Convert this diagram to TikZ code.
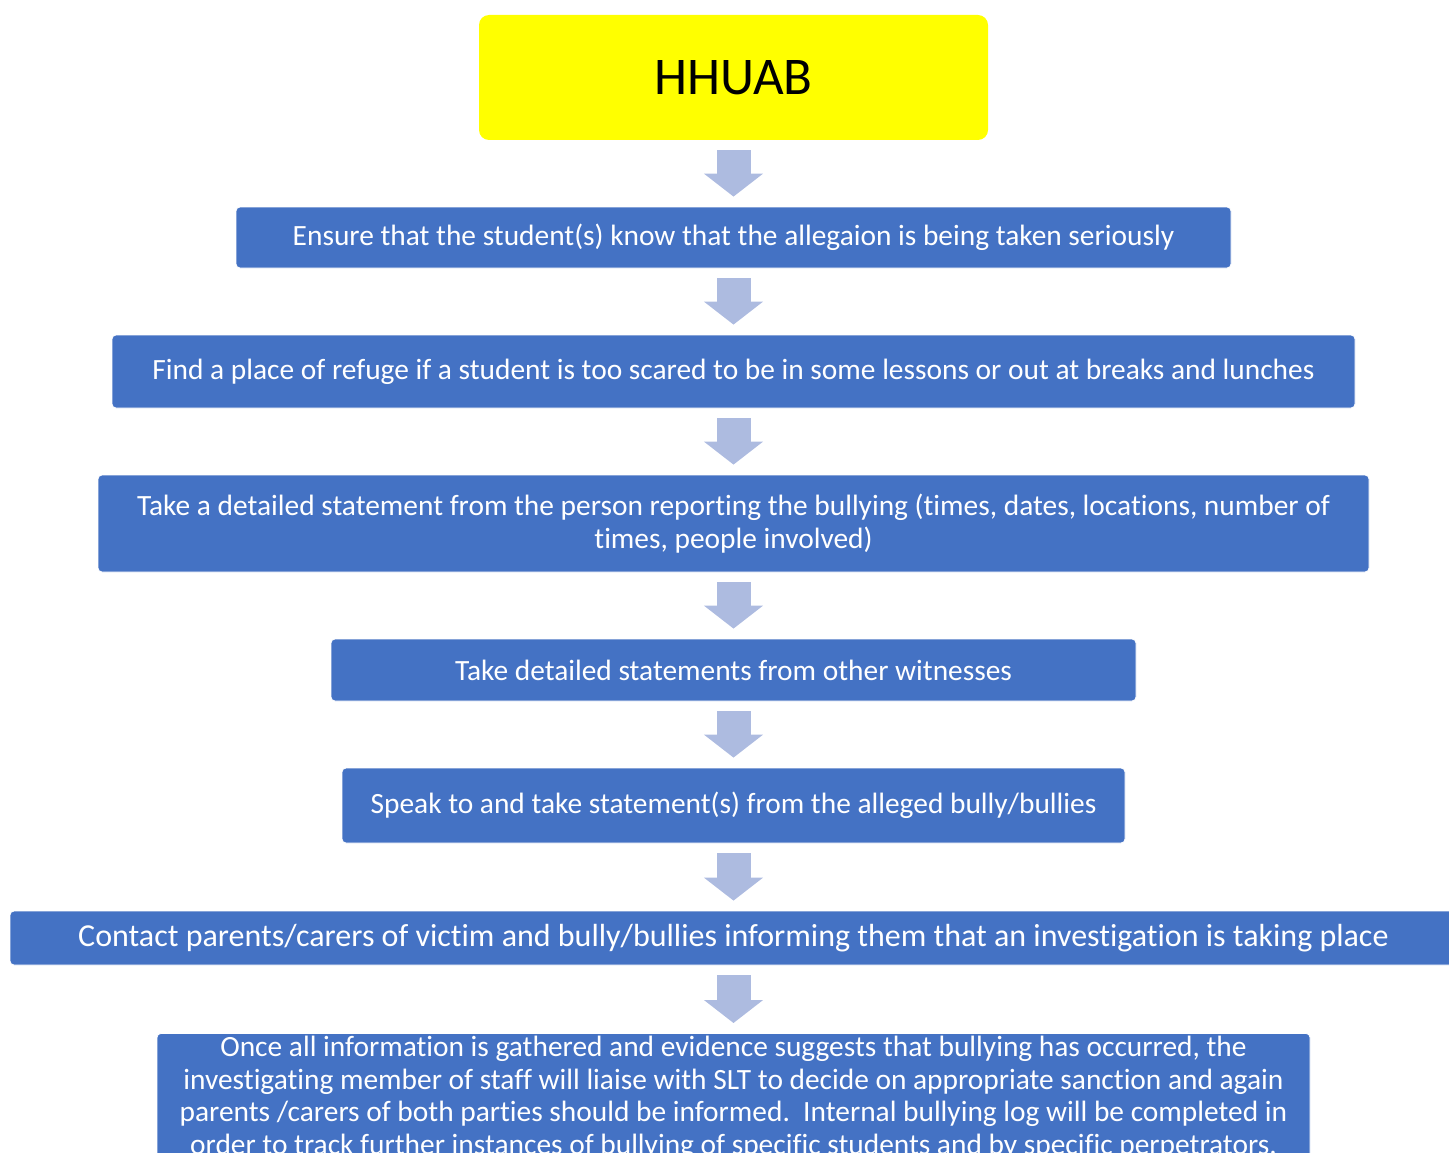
\documentclass[tikz,border=0pt]{standalone}
\usepackage{fontspec}
\setmainfont[RawFeature={-liga;-clig;-dlig}]{Carlito}
\usetikzlibrary{arrows.meta}
\definecolor{boxblue}{HTML}{4472C4}
\definecolor{arrowblue}{HTML}{ADBBE0}
\definecolor{titleyellow}{HTML}{FFFF00}
\tikzstyle{stepbox}=[rectangle,rounded corners=4pt,fill=boxblue,draw=white,line width=0.8pt,text=white,align=center,inner sep=0pt,font=\fontsize{29.4}{32.5}\selectfont]
\tikzstyle{titlebox}=[rectangle,rounded corners=10pt,fill=titleyellow,text=black,inner sep=0pt,font=\fontsize{53}{60}\selectfont]
\tikzstyle{flowarrow}=[arrowblue,line width=34pt,shorten <=10pt,shorten >=10pt,-{Triangle[width=58pt,length=23pt]}]

\begin{document}
\begin{tikzpicture}[x=1pt,y=-1pt]
\useasboundingbox (0,0) rectangle (1449,1153);
\clip (0,0) rectangle (1449,1153);
\node[titlebox,minimum width=509pt,minimum height=125pt] at (733.5, 77.5) (title) {HHUAB};
\node[stepbox,minimum width=995pt,minimum height=61pt] at (733.5, 237.5) (ensure) {Ensure that the student(s) know that the allegaion is being taken seriously};
\node[stepbox,minimum width=1243pt,minimum height=73pt] at (733.5, 371.5) (refuge) {Find a place of refuge if a student is too scared to be in some lessons or out at breaks and lunches};
\node[stepbox,minimum width=1271pt,minimum height=97pt] at (733.5, 523.5) (statement) {Take a detailed statement from the person reporting the bullying (times, dates, locations, number of\\times, people involved)};
\node[stepbox,minimum width=805pt,minimum height=62pt] at (733.5, 670) (witness) {Take detailed statements from other witnesses};
\node[stepbox,minimum width=783pt,minimum height=75pt] at (733.5, 805.5) (bully) {Speak to and take statement(s) from the alleged bully/bullies};
\node[stepbox,minimum width=1447pt,minimum height=54pt,font=\fontsize{32}{36}\selectfont] at (733.5, 938) (contact) {Contact parents/carers of victim and bully/bullies informing them that an investigation is taking place};
\node[stepbox,minimum width=1153pt,inner ysep=3pt,anchor=north] at (733.5, 1033) (outcome) {Once all information is gathered and evidence suggests that bullying has occurred, the\\investigating member of staff will liaise with SLT to decide on appropriate sanction and again\\parents /carers of both parties should be informed.\ \ Internal bullying log will be completed in\\order to track further instances of bullying of specific students and by specific perpetrators.\\[6pt]};
\draw[flowarrow] (title) -- (ensure);
\draw[flowarrow] (ensure) -- (refuge);
\draw[flowarrow] (refuge) -- (statement);
\draw[flowarrow] (statement) -- (witness);
\draw[flowarrow] (witness) -- (bully);
\draw[flowarrow] (bully) -- (contact);
\draw[flowarrow] (contact) -- (outcome);
\end{tikzpicture}
\end{document}
